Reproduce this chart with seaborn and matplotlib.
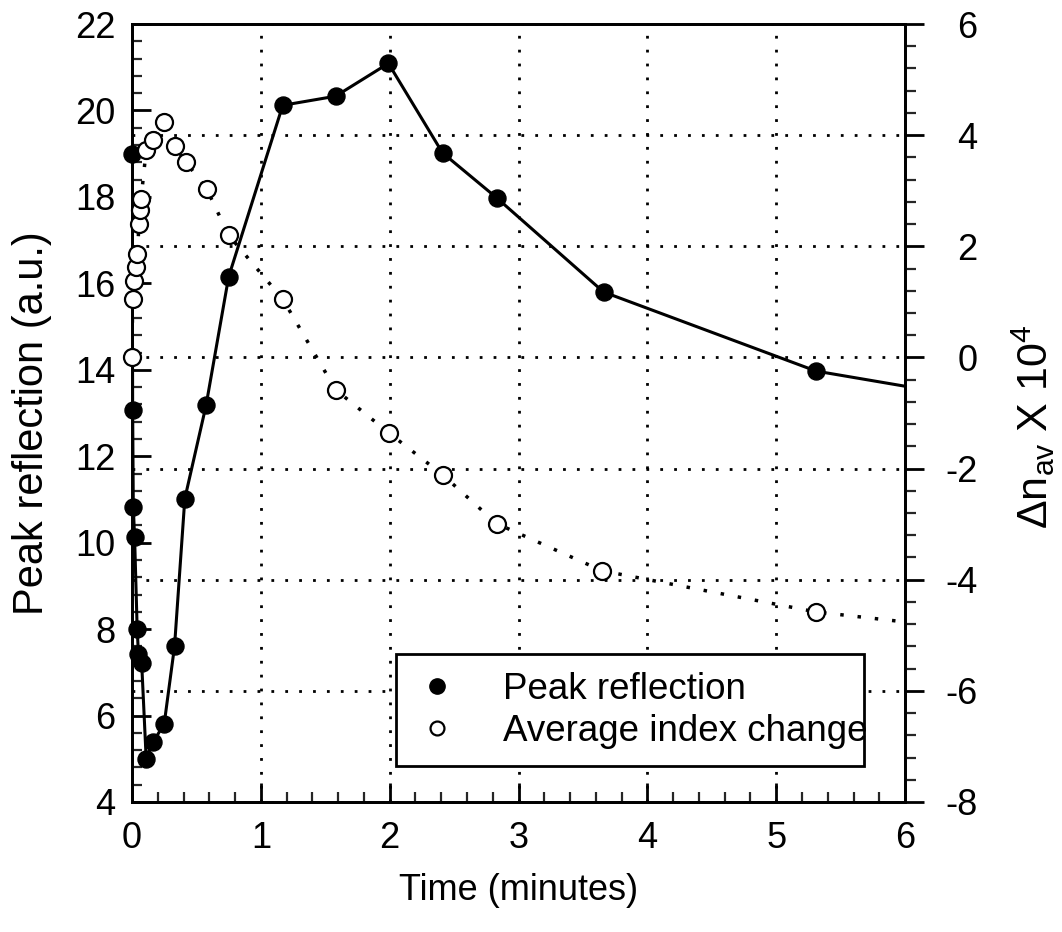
import matplotlib
matplotlib.use("Agg")
import matplotlib.pyplot as plt
import pandas as pd
import seaborn as sns
from matplotlib.patches import Rectangle
from matplotlib.lines import Line2D
from matplotlib.ticker import MultipleLocator

# Peak reflection (filled circles, left axis)
peak_time = [0.0, 0.005, 0.01, 0.02, 0.04, 0.05, 0.075, 0.11, 0.165, 0.25, 0.33,
             0.41, 0.575, 0.75, 1.17, 1.58, 1.99, 2.41, 2.83, 3.66, 5.31]
peak_refl = [19.0, 13.08, 10.83, 10.13, 8.01, 7.43, 7.22, 5.0, 5.39, 5.81, 7.6,
             11.02, 13.18, 16.15, 20.12, 20.33, 21.09, 19.02, 17.98, 15.80, 13.97]
# the solid line runs on to the right edge
peak_tail_time = [6.0]
peak_tail_refl = [13.62]

# Average index change (open circles, right axis, x 1e4)
idx_time = [0.0, 0.005, 0.015, 0.03, 0.04, 0.055, 0.06, 0.07, 0.11, 0.16, 0.245,
            0.33, 0.42, 0.58, 0.75, 1.17, 1.58, 1.995, 2.41, 2.83, 3.65, 5.31]
idx_change = [0.0, 1.05, 1.37, 1.63, 1.86, 2.40, 2.65, 2.85, 3.73, 3.91, 4.24,
              3.81, 3.51, 3.03, 2.20, 1.05, -0.58, -1.36, -2.11, -2.99, -3.84, -4.58]
idx_tail_time = [6.0]
idx_tail_change = [-4.76]

FS = 26

sns.set_theme(style="white")
plt.rcParams["font.family"] = ["Liberation Sans", "DejaVu Sans"]
plt.rcParams["mathtext.fontset"] = "custom"
plt.rcParams["mathtext.rm"] = "Liberation Sans"
plt.rcParams["mathtext.it"] = "Liberation Sans"
plt.rcParams["axes.unicode_minus"] = False
plt.rcParams["text.color"] = "black"

peak = pd.DataFrame({"time": peak_time, "value": peak_refl})
idx = pd.DataFrame({"time": idx_time, "value": idx_change})

fig = plt.figure(figsize=(10.62, 9.32), dpi=100)
ax = fig.add_axes([0.1243, 0.1395, 0.7279, 0.8347])
ax2 = ax.twinx()

# grid: vertical lines from x majors, horizontal lines from right-axis majors
dots = (0, (1, 4))
ax.grid(axis="x", color="black", linestyle=dots, linewidth=2)
ax.grid(axis="y", visible=False)
ax2.grid(axis="y", color="black", linestyle=dots, linewidth=2)

sns.lineplot(x=peak_time + peak_tail_time, y=peak_refl + peak_tail_refl,
             ax=ax, color="black", linewidth=2.2, sort=False, zorder=3)
sns.scatterplot(data=peak, x="time", y="value", ax=ax, color="black", s=150,
                edgecolor="black", linewidth=1, zorder=4, clip_on=False)

sns.lineplot(x=idx_time + idx_tail_time, y=idx_change + idx_tail_change,
             ax=ax2, color="black", linewidth=2.5, linestyle=dots,
             sort=False, zorder=3)
sns.scatterplot(data=idx, x="time", y="value", ax=ax2, color="white", s=150,
                edgecolor="black", linewidth=1.6, zorder=4, clip_on=False)

ax.set_xlim(0, 6)
ax.set_ylim(4, 22)
ax2.set_ylim(-8, 6)
ax.set_xticks(range(0, 7))
ax.set_yticks(range(4, 23, 2))
ax2.set_yticks(range(-8, 7, 2))
ax.xaxis.set_minor_locator(MultipleLocator(0.2))
ax.yaxis.set_minor_locator(MultipleLocator(0.4))
ax2.yaxis.set_minor_locator(MultipleLocator(0.4))

for a in (ax, ax2):
    for sp in a.spines.values():
        sp.set_linewidth(2)
        sp.set_color("black")

ax.tick_params(axis="both", which="major", direction="in", length=14, width=2,
               labelsize=FS, colors="black", top=False, right=False, left=True, bottom=True)
ax.tick_params(axis="both", which="minor", direction="in", length=7, width=1.6,
               top=False, right=False, left=True, bottom=True)
ax.tick_params(axis="x", which="major", pad=14)
ax.tick_params(axis="y", which="major", pad=12)
ax2.tick_params(axis="y", which="major", direction="out", length=14, width=2,
                labelsize=FS, colors="black", pad=38)
ax2.tick_params(axis="y", which="minor", direction="out", length=8, width=1.6)
plt.setp(ax2.get_yticklabels(), ha="right")

ax.set_xlabel("Time (minutes)", fontsize=FS, color="black", labelpad=12)
ax.set_ylabel("Peak reflection (a.u.)", fontsize=30, color="black")
ax.yaxis.set_label_coords(-0.103, 0.487)
ax2.set_ylabel(r"$\mathrm{\Delta n_{av}}$ X 10$^4$", fontsize=31, color="black")
ax2.yaxis.set_label_coords(1.136, 0.483)

# legend frame; the text runs slightly past it as in the original
ax2.add_patch(Rectangle((0.3415, 0.046), 0.6055, 0.144, transform=ax2.transAxes,
                        facecolor="white", edgecolor="black", linewidth=2, zorder=5))
handles = [
    Line2D([], [], marker="o", linestyle="none", markerfacecolor="black",
           markeredgecolor="black", markersize=11),
    Line2D([], [], marker="o", linestyle="none", markerfacecolor="white",
           markeredgecolor="black", markeredgewidth=1.6, markersize=10),
]
leg = ax2.legend(handles, ["Peak reflection", "Average index change"],
                 loc="lower left", bbox_to_anchor=(0.371, 0.068), frameon=False,
                 fontsize=26.5, handlelength=1.0, handletextpad=1.3,
                 labelspacing=0.2, borderaxespad=0, borderpad=0)
for t in leg.get_texts():
    t.set_color("black")
leg.set_zorder(6)

fig.savefig("out.png", dpi=100)
